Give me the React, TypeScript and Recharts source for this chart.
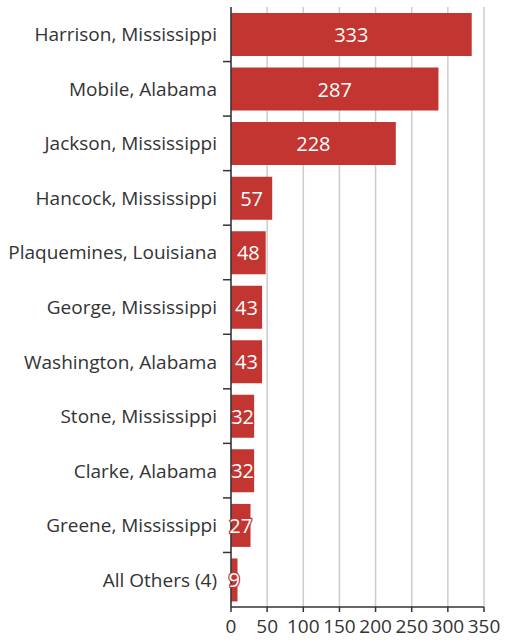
import React from "react";
import { BarChart, Bar, XAxis, YAxis, CartesianGrid, LabelList } from "recharts";

const categories = [
  "Harrison, Mississippi",
  "Mobile, Alabama",
  "Jackson, Mississippi",
  "Hancock, Mississippi",
  "Plaquemines, Louisiana",
  "George, Mississippi",
  "Washington, Alabama",
  "Stone, Mississippi",
  "Clarke, Alabama",
  "Greene, Mississippi",
  "All Others (4)",
];
const counts = [333, 287, 228, 57, 48, 43, 43, 32, 32, 27, 9];
const xTicks = [0, 50, 100, 150, 200, 250, 300, 350];

const data = categories.map((name, i) => ({ name, value: counts[i] }));

const FONT = "'Open Sans', 'Noto Sans', sans-serif";
const TEXT = "#333";
const BAR = "#c23531";
const FS = 19;

const YTick = (props: any) => {
  const { x, y, payload, index, visibleTicksCount } = props;
  const band = 600 / categories.length;
  const isLast = index === (visibleTicksCount ?? categories.length) - 1;
  return (
    <g>
      <text
        x={x - 6}
        y={y}
        textAnchor="end"
        dominantBaseline="central"
        fontSize={FS}
        fontFamily={FONT}
        fill={TEXT}
      >
        {payload.value}
      </text>
      {!isLast && (
        <line x1={x} x2={x + 8} y1={y + band / 2} y2={y + band / 2} stroke={TEXT} strokeWidth={1.5} />
      )}
    </g>
  );
};

const BarLabel = (props: any) => {
  const { x, y, width, height, value } = props;
  return (
    <text
      x={x + width / 2}
      y={y + height / 2}
      textAnchor="middle"
      dominantBaseline="central"
      fontSize={20}
      fontFamily={FONT}
      fill="#fff"
      stroke={BAR}
      strokeWidth={2.5}
      paintOrder="stroke"
    >
      {value}
    </text>
  );
};

export default function App() {
  return (
    <div style={{ position: "absolute", left: 0, top: 0, width: 506, height: 644, background: "#fff" }}>
      <BarChart
        width={506}
        height={644}
        data={data}
        layout="vertical"
        margin={{ top: 7, right: 22, bottom: 0, left: 0 }}
        barCategoryGap="11%"
      >
        <CartesianGrid horizontal={false} vertical={true} stroke="#ccc" strokeWidth={1.5} />
        <XAxis
          type="number"
          domain={[0, 350]}
          ticks={xTicks}
          interval={0}
          height={37}
          axisLine={{ stroke: TEXT, strokeWidth: 1.5 }}
          tickLine={{ stroke: TEXT, strokeWidth: 1.5 }}
          tickSize={5}
          tick={{ fontSize: FS, fontFamily: FONT, fill: TEXT }}
          tickMargin={8}
        />
        <YAxis
          type="category"
          dataKey="name"
          width={231}
          interval={0}
          axisLine={{ stroke: TEXT, strokeWidth: 1.5 }}
          tickLine={false}
          tick={<YTick />}
        />
        <Bar dataKey="value" fill={BAR} isAnimationActive={false}>
          <LabelList dataKey="value" content={<BarLabel />} />
        </Bar>
      </BarChart>
    </div>
  );
}
